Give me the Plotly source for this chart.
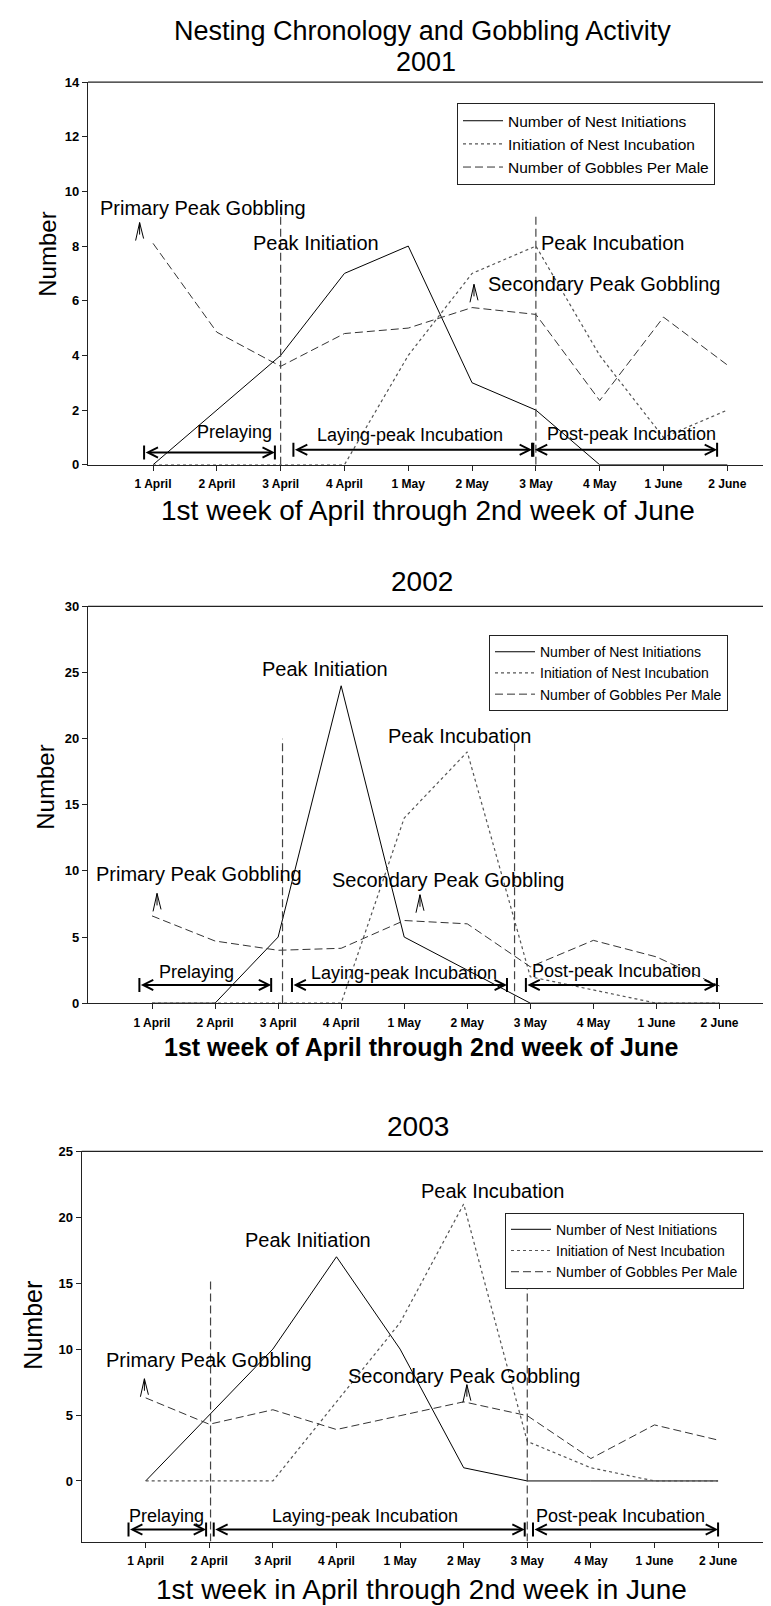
import plotly.graph_objects as go

# ---------------- data ----------------
weeks = ["1 April", "2 April", "3 April", "4 April", "1 May",
         "2 May", "3 May", "4 May", "1 June", "2 June"]

init_2001 = [0, 2, 4, 7, 8, 3, 2, 0, 0, 0]
incub_2001 = [0, 0, 0, 0, 4, 7, 8, 4, 1, 2]
gobble_2001 = [8.1, 4.85, 3.6, 4.8, 5.0, 5.75, 5.5, 2.35, 5.4, 3.65]

init_2002 = [0, 0, 5, 24, 5, 2.5, 0, 0, 0, 0]
incub_2002 = [0, 0, 0, 0, 14, 19, 2, 1, 0, 0]
gobble_2002 = [6.6, 4.7, 4.0, 4.15, 6.25, 6.0, 2.75, 4.75, 3.5, 1.3]

init_2003 = [0, 5, 10, 17, 10, 1, 0, 0, 0, 0]
incub_2003 = [0, 0, 0, 6, 12, 21, 3, 1, 0, 0]
gobble_2003 = [6.3, 4.3, 5.4, 3.9, 4.95, 6.0, 4.95, 1.7, 4.25, 3.1]

series_names = ["Number of Nest Initiations", "Initiation of Nest Incubation",
                "Number of Gobbles Per Male"]

FONT = "Liberation Sans, Arial, Helvetica, sans-serif"
W, H = 771, 1606

fig = go.Figure()
annotations = []
shapes = []


def px(yfull):
    return 1 - yfull / H


def add_panel(n, init, incub, gobble):
    xr = "x" if n == 1 else f"x{n}"
    yr = "y" if n == 1 else f"y{n}"
    lg = "legend" if n == 1 else f"legend{n}"
    xs = list(range(len(weeks)))
    fig.add_trace(go.Scatter(x=xs, y=init, mode="lines", name=series_names[0],
                             line=dict(color="black", width=1),
                             xaxis=xr, yaxis=yr, legend=lg))
    fig.add_trace(go.Scatter(x=xs, y=incub, mode="lines", name=series_names[1],
                             line=dict(color="#555555", width=1.2, dash="dot"),
                             xaxis=xr, yaxis=yr, legend=lg))
    fig.add_trace(go.Scatter(x=xs, y=gobble, mode="lines", name=series_names[2],
                             line=dict(color="#333333", width=1, dash="8px,4px"),
                             xaxis=xr, yaxis=yr, legend=lg))
    return xr, yr


def axis_pair(n, xdom, xrng, ydom, yrng, ytickvals):
    xk = "xaxis" if n == 1 else f"xaxis{n}"
    yk = "yaxis" if n == 1 else f"yaxis{n}"
    xr = "x" if n == 1 else f"x{n}"
    yr = "y" if n == 1 else f"y{n}"
    fig.layout[xk] = dict(domain=xdom, range=xrng, anchor=yr,
                          tickmode="array", tickvals=list(range(len(weeks))),
                          ticktext=weeks, showline=True, linecolor="#222",
                          linewidth=1.2, ticks="outside", ticklen=5,
                          tickcolor="#222", ticklabelstandoff=3,
                          tickfont=dict(family=FONT, size=12, color="black",
                                        weight="bold"),
                          showgrid=False, zeroline=False)
    fig.layout[yk] = dict(domain=ydom, range=yrng, anchor=xr,
                          tickmode="array", tickvals=ytickvals,
                          showline=True, linecolor="#222", linewidth=1.2,
                          ticks="outside", ticklen=5, tickcolor="#222",
                          tickfont=dict(family=FONT, size=13, color="black",
                                        weight="bold"),
                          showgrid=False, zeroline=False)
    # top frame line
    shapes.append(dict(type="line", xref=f"{xr} domain", yref=f"{yr} domain",
                       x0=0, x1=1, y0=1, y1=1,
                       line=dict(color="#222", width=1.2)))


def text(xr, yr, x, y, s, size):
    annotations.append(dict(x=x, y=y, xref=xr, yref=yr, text=s, showarrow=False,
                            font=dict(family=FONT, size=size, color="black"),
                            xanchor="center", yanchor="middle"))


def caret(xr, yr, x, tip):
    shapes.append(dict(type="path", xref=xr, yref=yr, xsizemode="pixel",
                       ysizemode="pixel", xanchor=x, yanchor=tip,
                       path="M -4,-18 L 0,0 L 4,-16 M 0,0 L 0,-12",
                       line=dict(color="black", width=1)))


def dbl_arrow(xr, yr, yv, x0, x1):
    annotations.append(dict(x=x1, y=yv, ax=x0, ay=yv, xref=xr, yref=yr,
                            axref=xr, ayref=yr, text="", showarrow=True,
                            arrowhead=5, startarrowhead=5, arrowside="end+start",
                            arrowwidth=2, arrowsize=1, startarrowsize=1,
                            arrowcolor="black", standoff=0, startstandoff=0))
    for xv in (x0, x1):
        shapes.append(dict(type="line", xref=xr, yref=yr, ysizemode="pixel",
                           yanchor=yv, x0=xv, x1=xv, y0=-7, y1=7,
                           line=dict(color="black", width=2)))


def vline(xr, yr, x, y0, y1):
    shapes.append(dict(type="line", xref=xr, yref=yr, x0=x, x1=x, y0=y0, y1=y1,
                       line=dict(color="#444", width=1.2, dash="8px,4px")))


# ---------------- panel 1 (2001) ----------------
xr, yr = add_panel(1, init_2001, incub_2001, gobble_2001)
axis_pair(1, [80 / W, 1], [-1.019, 9.81], [px(454), px(67.7)], [0, 14],
          [0, 2, 4, 6, 8, 10, 12, 14])
vline(xr, yr, 2.0, 0, 9.5)
vline(xr, yr, 6.0, 0, 9.15)
text(xr, yr, 0.78, 9.4, "Primary Peak Gobbling", 20)
text(xr, yr, 2.56, 8.13, "Peak Initiation", 20)
text(xr, yr, 7.2, 8.1, "Peak Incubation", 20)
text(xr, yr, 7.06, 6.62, "Secondary Peak Gobbling", 20)
text(xr, yr, 1.27, 1.2, "Prelaying", 18)
text(xr, yr, 4.02, 1.09, "Laying-peak Incubation", 18)
text(xr, yr, 7.5, 1.12, "Post-peak Incubation", 18)
caret(xr, yr, -0.21, 8.86)
caret(xr, yr, 5.03, 6.6)
dbl_arrow(xr, yr, 0.45, -0.14, 1.91)
dbl_arrow(xr, yr, 0.55, 2.2, 5.94)
dbl_arrow(xr, yr, 0.55, 5.96, 8.84)

# ---------------- panel 2 (2002) ----------------
xr, yr = add_panel(2, init_2002, incub_2002, gobble_2002)
axis_pair(2, [80 / W, 1], [-1.015, 9.944], [px(997.5), px(597)], [0, 30],
          [0, 5, 10, 15, 20, 25, 30])
vline(xr, yr, 2.07, 0, 20)
vline(xr, yr, 5.75, 0, 19.7)
text(xr, yr, 2.75, 25.3, "Peak Initiation", 20)
text(xr, yr, 4.87, 20.2, "Peak Incubation", 20)
text(xr, yr, 0.75, 9.8, "Primary Peak Gobbling", 20)
text(xr, yr, 4.7, 9.3, "Secondary Peak Gobbling", 20)
text(xr, yr, 0.7, 2.35, "Prelaying", 18)
text(xr, yr, 4.0, 2.3, "Laying-peak Incubation", 18)
text(xr, yr, 7.36, 2.4, "Post-peak Incubation", 18)
caret(xr, yr, 0.08, 8.3)
caret(xr, yr, 4.25, 8.2)
dbl_arrow(xr, yr, 1.38, -0.2, 1.89)
dbl_arrow(xr, yr, 1.38, 2.22, 5.63)
dbl_arrow(xr, yr, 1.38, 5.93, 8.96)

# ---------------- panel 3 (2003) ----------------
xr, yr = add_panel(3, init_2003, incub_2003, gobble_2003)
axis_pair(3, [73.7 / W, 1], [-1.006, 9.958], [px(1541), px(1147)], [-4.6, 25],
          [0, 5, 10, 15, 20, 25])
vline(xr, yr, 1.02, -4.6, 15.25)
vline(xr, yr, 6.0, -4.6, 15.15)
text(xr, yr, 5.45, 22.0, "Peak Incubation", 20)
text(xr, yr, 2.55, 18.25, "Peak Initiation", 20)
text(xr, yr, 1.0, 9.15, "Primary Peak Gobbling", 20)
text(xr, yr, 5.0, 7.95, "Secondary Peak Gobbling", 20)
text(xr, yr, 0.32, -2.68, "Prelaying", 18)
text(xr, yr, 3.45, -2.68, "Laying-peak Incubation", 18)
text(xr, yr, 7.47, -2.68, "Post-peak Incubation", 18)
caret(xr, yr, -0.02, 7.75)
caret(xr, yr, 5.05, 7.3)
dbl_arrow(xr, yr, -3.68, -0.27, 0.95)
dbl_arrow(xr, yr, -3.68, 1.07, 5.96)
dbl_arrow(xr, yr, -3.68, 6.09, 9.0)


# ---------------- titles / axis titles ----------------
def ptext(x, y, s, size, bold=False, angle=0):
    annotations.append(dict(x=x / W, y=px(y), xref="paper", yref="paper", text=s,
                            showarrow=False, textangle=angle,
                            font=dict(family=FONT, size=size, color="black",
                                      weight="bold" if bold else "normal"),
                            xanchor="center", yanchor="middle"))


ptext(414, 16, "Nesting Chronology and Gobbling Activity", 27)
ptext(418, 47, "2001", 27)
ptext(414, 572, "2002", 28)
ptext(410, 1122, "2003", 28)
ptext(420, 500, "1st week of April through 2nd week of June", 28)
ptext(413, 1042, "1st week of April through 2nd week of June", 25, bold=True)
ptext(413, 1589, "1st week in April through 2nd week in June", 28)
ptext(40, 242, "Number", 24, angle=-90)
ptext(38, 780, "Number", 24, angle=-90)
ptext(25, 1323, "Number", 25, angle=-90)


def legend_cfg(x, y, size):
    return dict(x=x / W, y=px(y), xref="paper", yref="paper", xanchor="left",
                yanchor="top", bgcolor="white", bordercolor="#222", borderwidth=1,
                font=dict(family=FONT, size=size, color="black"),
                itemwidth=40, traceorder="normal", tracegroupgap=0)


fig.update_layout(
    width=W, height=H, margin=dict(l=0, r=0, t=0, b=0),
    paper_bgcolor="white", plot_bgcolor="white",
    font=dict(family=FONT, color="black"),
    showlegend=True,
    legend=legend_cfg(449, 89, 15.5),
    legend2=legend_cfg(481, 626, 14),
    legend3=legend_cfg(497, 1209, 14),
    annotations=annotations, shapes=shapes,
)

fig.write_html("out.html")
